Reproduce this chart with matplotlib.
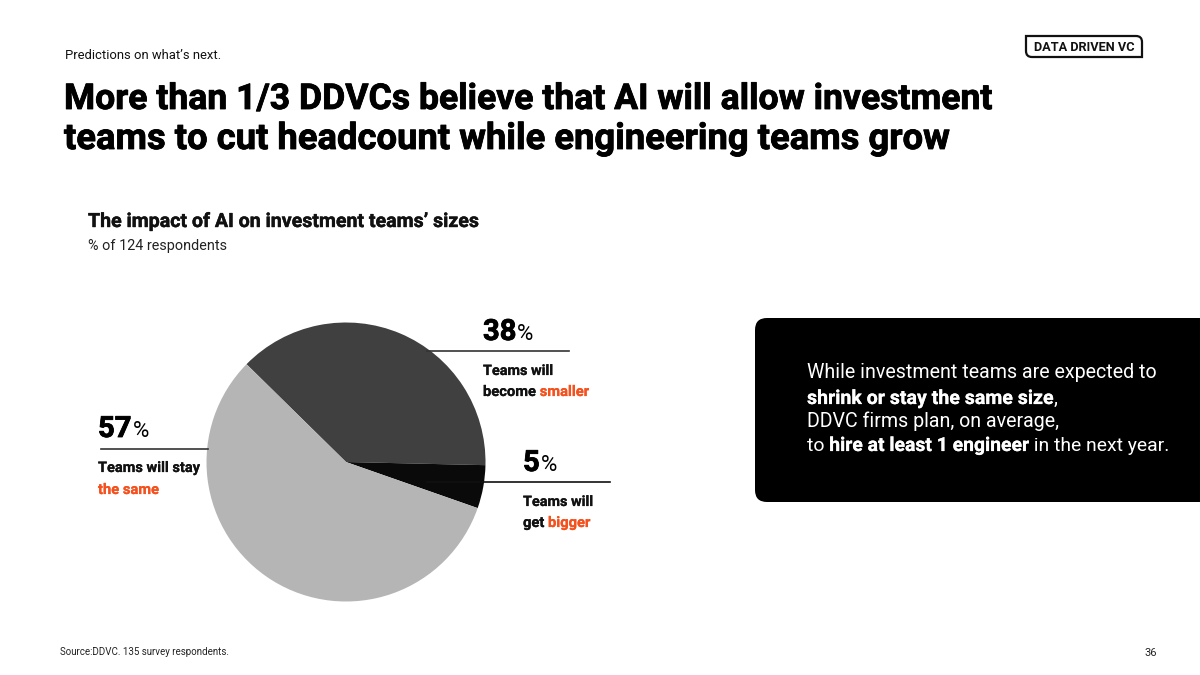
import matplotlib
matplotlib.use("Agg")
import matplotlib.pyplot as plt
import matplotlib.patheffects as pe
from matplotlib.patches import FancyBboxPatch, PathPatch
from matplotlib.path import Path

# --- Data ---
SHARES = [38, 5, 57]
SHARE_LABELS = ["38", "5", "57"]
WEDGE_COLORS = ["#404040", "#0a0a0a", "#b5b5b5"]

ORANGE = "#f4511e"
FONT = "Roboto"
W, H = 1200, 675

plt.rcParams["font.family"] = [FONT, "DejaVu Sans"]

fig = plt.figure(figsize=(12, 6.75), dpi=100, facecolor="white")

# pie sits in its own axes, placed in pixels
cx, cy, r = 346, 462, 139.5
ax_pie = fig.add_axes([(cx - r) / W, 1 - (cy + r) / H, 2 * r / W, 2 * r / H])
ax_pie.pie(SHARES, colors=WEDGE_COLORS, startangle=135.5, counterclock=False, radius=1)
ax_pie.set_xlim(-1, 1)
ax_pie.set_ylim(-1, 1)

# overlay in pixel coordinates for the slide furniture
ax = fig.add_axes([0, 0, 1, 1], facecolor="none")
ax.set_xlim(0, W)
ax.set_ylim(H, 0)
ax.axis("off")


def heavy(color, lw=0.7):
    # Roboto bold is lighter than the slide's font, thicken it a little
    return [pe.withStroke(linewidth=lw, foreground=color)]


def runs(x, y, parts, size, gap=0):
    """Draw text pieces one after the other on a baseline: (text, weight, color, size or None)."""
    rend = fig.canvas.get_renderer()
    for text, weight, color, own_size in parts:
        t = ax.text(x, y, text, fontsize=own_size or size, fontweight=weight, color=color,
                    va="baseline", ha="left")
        if weight == "bold":
            t.set_path_effects(heavy(color, 0.15 if (own_size or size) < 18 else 0.6))
        x = t.get_window_extent(rend).x1 + gap


# header
ax.text(65, 59, "Predictions on what\u2019s next.", fontsize=9.4, color="#111111", va="baseline")
for line, y, size in [("More than 1/3 DDVCs believe that AI will allow investment", 109, 25.6),
                      ("teams to cut headcount while engineering teams grow", 149, 26.2)]:
    ax.text(64, y, line, fontsize=size, fontweight="bold", color="black", va="baseline",
            path_effects=heavy("black", 0.6))

# logo
logo = Path(
    [(1026, 36), (1136, 36), (1142, 36), (1142, 42), (1142, 57), (1032, 57), (1026, 57), (1026, 51), (1026, 36)],
    [Path.MOVETO, Path.LINETO, Path.CURVE3, Path.CURVE3, Path.LINETO, Path.LINETO, Path.CURVE3, Path.CURVE3, Path.CLOSEPOLY],
)
ax.add_patch(PathPatch(logo, facecolor="white", edgecolor="#111111", lw=1.6))
ax.text(1084.5, 47.5, "DATA DRIVEN VC", fontsize=9.2, fontweight="bold", color="#111111",
        ha="center", va="center")

# chart heading
ax.text(88, 227, "The impact of AI on investment teams\u2019 sizes", fontsize=14.1,
        fontweight="bold", color="#111111", va="baseline", path_effects=heavy("#111111", 0.3))
ax.text(88, 250, "% of 124 respondents", fontsize=10.4, color="#222222", va="baseline")

# callout lines
ax.plot([427, 569], [351, 351], color="#333333", lw=1.2)
ax.plot([427, 610], [482, 482], color="#111111", lw=1.2)
ax.plot([101, 208], [448.5, 448.5], color="#333333", lw=1.2)

# callouts
PCT = ("%", "normal", "black", 16)
runs(483, 340, [(SHARE_LABELS[0], "bold", "black", None), PCT], 21, gap=1)
runs(483, 375, [("Teams will", "bold", "#111111", None)], 10.4)
runs(483, 396, [("become ", "bold", "#111111", None), ("smaller", "bold", ORANGE, None)], 10.6)

runs(523, 471, [(SHARE_LABELS[1], "bold", "black", None), PCT], 21, gap=1)
runs(523, 506, [("Teams will", "bold", "#111111", None)], 10.4)
runs(523, 527, [("get ", "bold", "#111111", None), ("bigger", "bold", ORANGE, None)], 10.6)

runs(98, 437, [(SHARE_LABELS[2], "bold", "black", None), PCT], 21, gap=1)
runs(98, 472, [("Teams will stay", "bold", "#111111", None)], 10.5)
runs(98, 494, [("the same", "bold", ORANGE, None)], 10.6)

# black box on the right, runs off the slide edge
ax.add_patch(FancyBboxPatch((767, 330), 460, 160, boxstyle="round,pad=12,rounding_size=12",
                            facecolor="black", edgecolor="none", clip_on=True))
runs(807, 378, [("While investment teams are expected to", "normal", "white", None)], 14.1)
runs(807, 404, [("shrink or stay the same size", "bold", "white", None), (",", "normal", "white", None)], 14.1)
runs(807, 427, [("DDVC firms plan, on average,", "normal", "white", None)], 14.1)
runs(807, 451, [("to ", "normal", "white", None), ("hire at least 1 engineer", "bold", "white", None),
                (" in the next year.", "normal", "white", None)], 13.95)

# footer
ax.text(60, 655, "Source:DDVC. 135 survey respondents.", fontsize=7.0, color="#222222", va="baseline")
ax.text(1157, 656, "36", fontsize=8, color="#222222", ha="right", va="baseline")

fig.savefig("out.png", dpi=100)
